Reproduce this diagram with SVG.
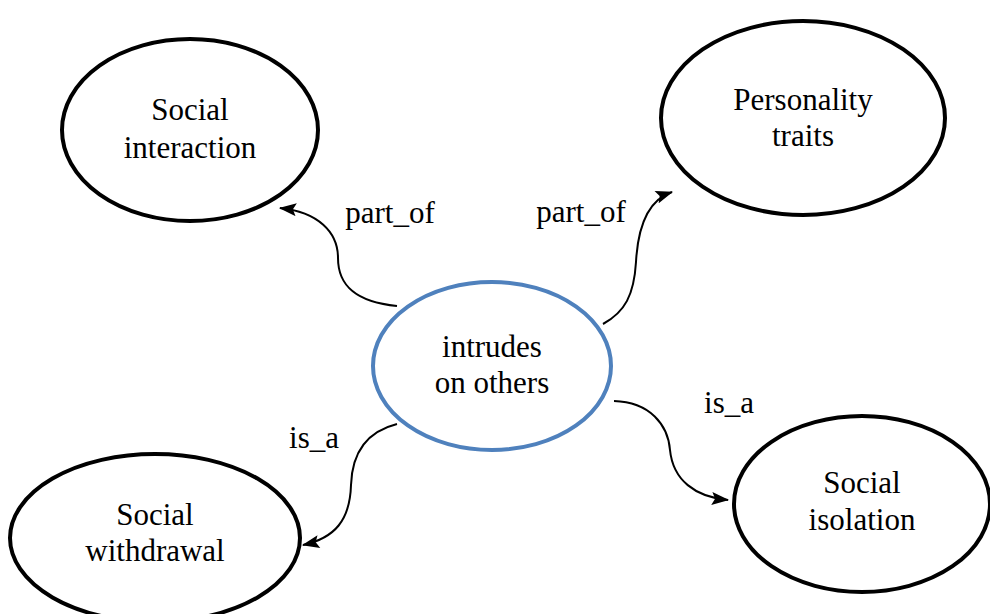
<svg xmlns="http://www.w3.org/2000/svg" width="990" height="614" viewBox="0 0 990 614">
  <style>
    .node { fill: #ffffff; stroke: #000000; stroke-width: 4; }
    .center { fill: #ffffff; stroke: #4f81bd; stroke-width: 4; }
    .label { font-family: "Liberation Serif", "Times New Roman", serif; font-size: 31px; fill: #000000; text-anchor: middle; }
    .edge { fill: none; stroke: #000000; stroke-width: 2; marker-end: url(#arrowhead); }
  </style>
  <defs>
    <marker id="arrowhead" viewBox="0 0 16 12" refX="15" refY="6" markerWidth="18" markerHeight="13" markerUnits="userSpaceOnUse" orient="auto">
      <path d="M0,0 L16,6 L0,12 L3,6 z" fill="#000000"/>
    </marker>
  </defs>
  <rect width="990" height="614" fill="#ffffff"/>

  <g id="connectors">
    <path class="edge" d="M397,306 C355,302 338,285 338,258 C338,232 318,212 280,208"/>
    <path class="edge" d="M603,324 C625,312 634,295 636,262 C638,225 648,200 672,192"/>
    <path class="edge" d="M397,424 C365,432 352,455 351,485 C350,520 335,538 303,545"/>
    <path class="edge" d="M614,401 C650,402 668,425 670,450 C673,480 695,497 728,500"/>
    <text class="label" x="390" y="223">part_of</text>
    <text class="label" x="581" y="222">part_of</text>
    <text class="label" x="314" y="448">is_a</text>
    <text class="label" x="729" y="413">is_a</text>
  </g>

  <g id="social-interaction">
    <ellipse class="node" cx="190" cy="130" rx="128" ry="91"/>
    <text class="label" x="190" y="120">Social</text>
    <text class="label" x="190" y="158">interaction</text>
  </g>

  <g id="personality-traits">
    <ellipse class="node" cx="803" cy="118" rx="142" ry="97"/>
    <text class="label" x="803" y="110">Personality</text>
    <text class="label" x="803" y="146">traits</text>
  </g>

  <g id="intrudes-on-others">
    <ellipse class="center" cx="492" cy="366" rx="119" ry="84"/>
    <text class="label" x="492" y="357">intrudes</text>
    <text class="label" x="492" y="393">on others</text>
  </g>

  <g id="social-withdrawal">
    <ellipse class="node" cx="155" cy="538" rx="145" ry="84"/>
    <text class="label" x="155" y="525">Social</text>
    <text class="label" x="155" y="561">withdrawal</text>
  </g>

  <g id="social-isolation">
    <ellipse class="node" cx="862" cy="504" rx="128" ry="88"/>
    <text class="label" x="862" y="493">Social</text>
    <text class="label" x="862" y="530">isolation</text>
  </g>
</svg>
